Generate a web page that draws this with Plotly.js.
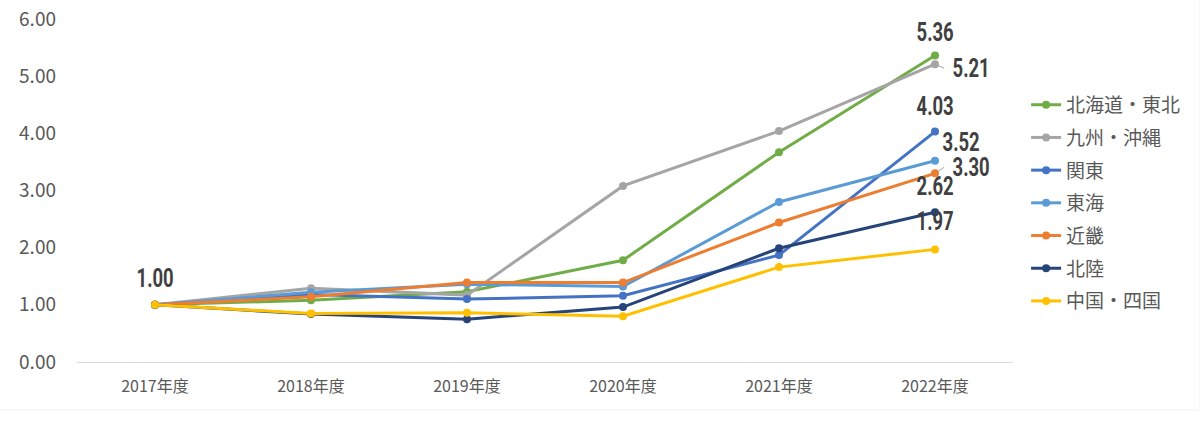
<!DOCTYPE html>
<html><head><meta charset="utf-8">
<script src="https://cdn.plot.ly/plotly-3.0.1.min.js"></script>
<style>html,body{margin:0;padding:0;background:#fff}#chart{width:1200px;height:423px}
#chart .annotation-text{transform-box:fill-box;transform-origin:center;transform:scaleX(0.74);}
</style>
</head><body><div id="chart"></div>
<script>
const categories = ["2017年度","2018年度","2019年度","2020年度","2021年度","2022年度"];
const seriesNames = ["北海道・東北","九州・沖縄","関東","東海","近畿","北陸","中国・四国"];
const hokkaidoTohoku = [1.00, 1.08, 1.23, 1.78, 3.67, 5.36];
const kyushuOkinawa  = [1.00, 1.29, 1.17, 3.08, 4.04, 5.21];
const kanto          = [1.00, 1.18, 1.10, 1.16, 1.87, 4.03];
const tokai          = [1.00, 1.22, 1.36, 1.32, 2.80, 3.52];
const kinki          = [1.00, 1.14, 1.39, 1.39, 2.44, 3.30];
const hokuriku       = [1.00, 0.84, 0.75, 0.96, 1.99, 2.62];
const chugokuShikoku = [1.00, 0.85, 0.86, 0.80, 1.66, 1.97];
const colors = ["#70AD47","#A5A5A5","#4472C4","#5B9BD5","#ED7D31","#264478","#FFC000"];
const allSeries = [hokkaidoTohoku, kyushuOkinawa, kanto, tokai, kinki, hokuriku, chugokuShikoku];

const traces = allSeries.map((vals, i) => ({
  type: "scatter", mode: "lines+markers", name: seriesNames[i],
  legendgroup: "g" + i,
  x: categories, y: vals,
  line: {color: colors[i], width: 3},
  marker: {color: colors[i], size: 8},
  hoverinfo: "skip"
}));

const labFont = {family: "Roboto, DejaVu Sans, sans-serif", size: 25, color: "#404040", weight: "bold"};
const last = categories.length - 1;
const labelCfg = [
  {xs: 0, ys: 23},
  {arrow: true, ax: 9, ay: 4},
  {xs: 0, ys: 25},
  {xs: 26, ys: 18},
  {arrow: true, ax: 9, ay: -6},
  {xs: 0, ys: 26},
  {xs: 0, ys: 28}
];
const annotations = allSeries.map((vals, i) => {
  const c = labelCfg[i];
  const base = {x: categories[last], y: vals[last], xref: "x", yref: "y",
    text: vals[last].toFixed(2), font: labFont};
  if (c.arrow) {
    return Object.assign(base, {showarrow: true, arrowhead: 0, arrowwidth: 1,
      arrowcolor: "#A6A6A6", ax: c.ax, ay: c.ay, standoff: 4, xanchor: "left"});
  }
  return Object.assign(base, {showarrow: false, xshift: c.xs, yshift: c.ys});
});
annotations.push({x: categories[0], y: hokkaidoTohoku[0], xref: "x", yref: "y",
  text: hokkaidoTohoku[0].toFixed(2), font: labFont, showarrow: false, yshift: 26});

const layout = {
  width: 1200, height: 423,
  margin: {l: 77, r: 187, t: 19, b: 61},
  paper_bgcolor: "#fff", plot_bgcolor: "#fff",
  font: {family: "Noto Sans CJK JP, sans-serif", color: "#595959"},
  xaxis: {type: "category", range: [-0.5, 5.5], showgrid: false, showline: false,
    zeroline: false, ticks: "", tickfont: {size: 16, color: "#595959"}, ticklabelstandoff: 13},
  yaxis: {range: [0, 6], dtick: 1, tickformat: ".2f", showgrid: false,
    zeroline: true, zerolinecolor: "#D9D9D9", zerolinewidth: 1, showline: false,
    tickfont: {size: 19, color: "#595959"}, ticklabelstandoff: 20},
  showlegend: true,
  legend: {x: 1.014, y: 0.805, xanchor: "left", yanchor: "top",
    font: {size: 19, color: "#595959"}, tracegroupgap: 5, itemwidth: 30,
    bgcolor: "rgba(0,0,0,0)"},
  shapes: [{type: "rect", xref: "paper", yref: "paper", x0: -0.0876, x1: 1.1998, y0: -0.14, y1: 1.06,
    line: {color: "#F0F0F0", width: 1}, layer: "below"}],
  annotations: annotations
};
Plotly.newPlot("chart", traces, layout, {displayModeBar: false, staticPlot: true});
</script></body></html>
